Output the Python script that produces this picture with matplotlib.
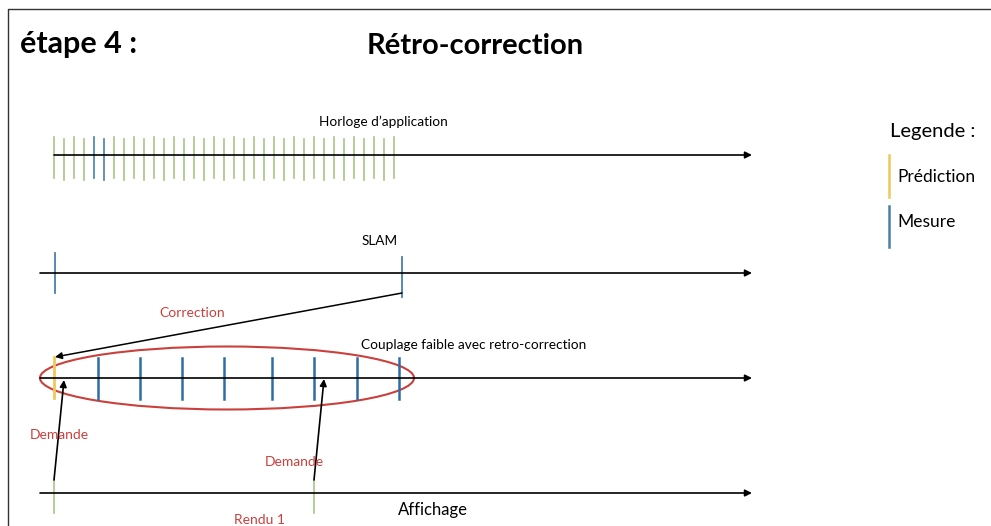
import matplotlib.pyplot as plt
from matplotlib.patches import Ellipse

plt.rcParams['font.family'] = ['Lato', 'DejaVu Sans']

# horizontal timelines: (label, y, x start)
timelines = [("Horloge d\u2019application", 155, 54),
             ("SLAM", 273, 40),
             ("Couplage faible avec retro-correction", 378, 40),
             ("Affichage", 493, 40)]
line_end = 752

# application clock ticks (x), index of the measured ones
clock_ticks = [54, 64, 74, 84, 94, 104, 114, 124, 134, 144, 154, 164, 174, 184,
               194, 204, 214, 224, 234, 244, 254, 264, 274, 284, 294, 304, 314,
               324, 334, 344, 354, 364, 374, 384, 394]
clock_measured = [4, 5]

slam_ticks = [55, 402]
coupling_pred = [54]
coupling_meas = [98, 140, 182, 224, 272, 314, 357, 399]
display_ticks = [54, 314]

green = "#a8c585"
blue = "#4a7faa"
dblue = "#2e6da4"
yellow = "#f0c75a"
red = "#c9403c"

fig = plt.figure(figsize=(9.91, 5.26), dpi=100)
ax = fig.add_axes([0, 0, 1, 1])
ax.set_xlim(0, 991)
ax.set_ylim(526, 0)
ax.axis("off")

# frame
ax.plot([8, 8, 991], [526, 9, 9], color="#333333", lw=1)

ax.text(20, 44, "étape 4 :", fontsize=22, fontweight="bold", va="center", ha="left")
ax.text(475, 46, "Rétro-correction", fontsize=21, fontweight="bold", va="center", ha="center")

for label, y, x0 in timelines:
    ax.annotate("", xy=(line_end, y), xytext=(x0, y),
                arrowprops=dict(arrowstyle="-|>", color="black", lw=1.2,
                                mutation_scale=10, shrinkA=0, shrinkB=0))

# timeline labels
ax.text(383, 122, timelines[0][0], fontsize=9.8, ha="center", va="center")
ax.text(380, 241, timelines[1][0], fontsize=9.8, ha="center", va="center")
ax.text(474, 345, timelines[2][0], fontsize=9.8, ha="center", va="center")
ax.text(433, 510, timelines[3][0], fontsize=12, ha="center", va="center")

# clock ticks
for i, x in enumerate(clock_ticks):
    c = blue if i in clock_measured else green
    y0, y1 = (137, 178) if i % 2 == 0 else (139, 180)
    ax.plot([x, x], [y0, y1], color=c, lw=1.2)

# SLAM ticks
ax.plot([slam_ticks[0]] * 2, [253, 293], color=blue, lw=1.3)
ax.plot([slam_ticks[1]] * 2, [257, 297], color=blue, lw=1.3)

# coupling ticks
for x in coupling_pred:
    ax.plot([x, x], [357, 398], color=yellow, lw=2)
for x in coupling_meas:
    ax.plot([x, x], [358, 399], color=dblue, lw=1.8)

# display ticks
for x in display_ticks:
    ax.plot([x, x], [480, 513], color=green, lw=1.2)

# ellipse
ax.add_patch(Ellipse((227, 378), 374, 63, fill=False, edgecolor=red, lw=1.5))

# correction arrow
ax.annotate("", xy=(slam_ticks[0], 357), xytext=(slam_ticks[1], 293),
            arrowprops=dict(arrowstyle="-|>", color="black", lw=1.1,
                            mutation_scale=10, shrinkA=0, shrinkB=0))
ax.text(192, 313, "Correction", fontsize=10, color=red, ha="center", va="center")

# request arrows
ax.annotate("", xy=(64, 380), xytext=(display_ticks[0], 480),
            arrowprops=dict(arrowstyle="-|>", color="black", lw=1.2,
                            mutation_scale=10, shrinkA=0, shrinkB=0))
ax.annotate("", xy=(324, 379), xytext=(display_ticks[1], 480),
            arrowprops=dict(arrowstyle="-|>", color="black", lw=1.2,
                            mutation_scale=10, shrinkA=0, shrinkB=0))
ax.text(59, 435, "Demande", fontsize=10, color=red, ha="center", va="center")
ax.text(294, 462, "Demande", fontsize=10, color=red, ha="center", va="center")
ax.text(259, 520, "Rendu 1", fontsize=10, color=red, ha="center", va="center")

# legend
ax.text(890, 132, "Legende :", fontsize=14.5, ha="left", va="center")
ax.plot([889, 889], [155, 197], color=yellow, lw=1.8)
ax.text(897, 177, "Prédiction", fontsize=12.5, ha="left", va="center")
ax.plot([889, 889], [206, 247], color=blue, lw=1.8)
ax.text(897, 222, "Mesure", fontsize=12.5, ha="left", va="center")

fig.savefig("out.png", dpi=100)
